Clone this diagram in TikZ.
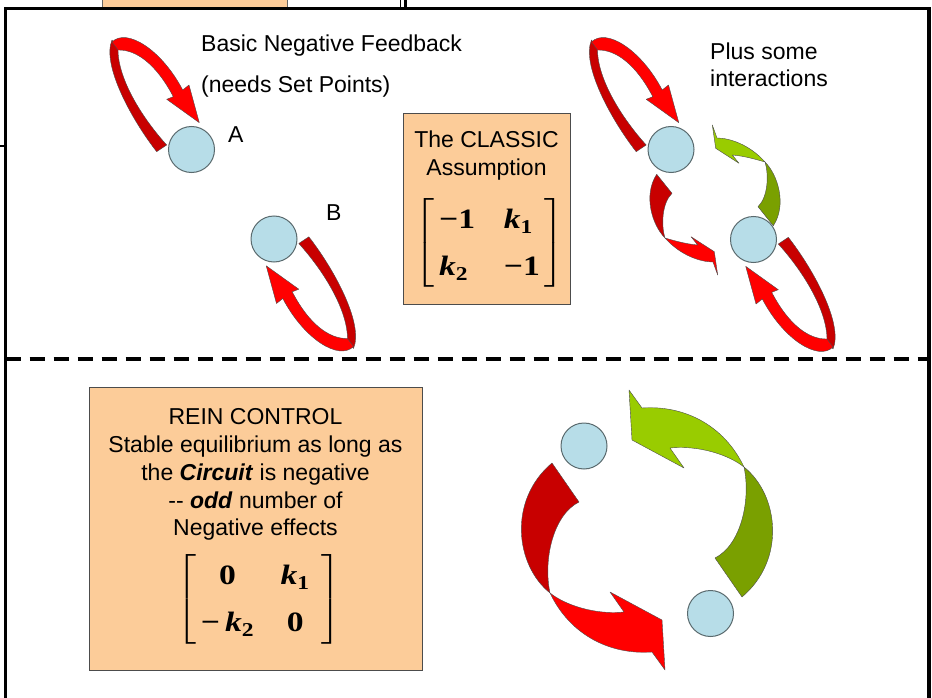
\documentclass[tikz,border=0pt]{standalone}
\usepackage{amsmath}
\usepackage{fontspec}
\setmainfont{Liberation Sans}
\newfontfamily\mtxfont{Liberation Serif}
\usetikzlibrary{backgrounds}

\definecolor{cellblue}{HTML}{B7DDE8}
\definecolor{cellrim}{HTML}{5A6A6E}
\definecolor{notefill}{HTML}{FCCC99}
\definecolor{reddark}{HTML}{C80000}
\definecolor{redlight}{HTML}{FF0000}
\definecolor{greendark}{HTML}{7AA000}
\definecolor{greenlight}{HTML}{99CC00}

\newcommand{\bnum}[1]{\text{\bfseries #1}}
\newcommand{\bk}[1]{\text{\bfseries\itshape k}_{\text{\bfseries #1}}}

\tikzset{
  cell/.style={circle, fill=cellblue, draw=cellrim, line width=1pt,
    minimum size=46pt, inner sep=0pt},
  notebox/.style={rectangle, fill=notefill, draw=black!70, line width=0.8pt,
    inner sep=0pt},
  lbl/.style={font=\fontsize{23}{27.75}\selectfont, inner sep=0pt},
  mtx/.style={font=\mtxfont\fontsize{28}{34}\selectfont, inner sep=0pt,
    xscale=1.2, transform shape},
  ribbon/.style={draw=black!70, line width=0.4pt, line join=round},
  pics/selfloop/.style={code={
    \filldraw[ribbon, fill=reddark] (-34.8,2.2) -- (-24.8,-4.5)
      .. controls (-48,-30) and (-74,-70) .. (-73.5,-101) -- (-79.5,-109.5)
      .. controls (-90,-85) and (-60,-30) .. cycle;
    \filldraw[ribbon, fill=redlight] (-79.5,-107.5)
      .. controls (-65,-122) and (-30,-100) .. (-8.8,-59.5) -- (-2.5,-64.5)
      -- (7.8,-26.8) -- (-24.8,-50.2) -- (-18.2,-52.8)
      .. controls (-35,-85) and (-55,-100) .. (-73.5,-99.5) -- cycle;
  }},
  pics/bigtwist/.style 2 args={code={
    \filldraw[ribbon, fill=#1] (-95,-67) -- (-68,-28)
      .. controls (-94,-15) and (-104,30) .. (-97,63)
      .. controls (-132,35) and (-139,-30) .. cycle;
    \filldraw[ribbon, fill=#2] (-97,63)
      .. controls (-77,105) and (-37,125) .. (5,122) -- (18,140) -- (15,90)
      -- (-37,62) -- (-23,82) .. controls (-52,85) and (-82,75) .. cycle;
  }},
  pics/smalltwist/.style 2 args={code={
    \filldraw[ribbon, fill=#1] (-58.3,-25.7) -- (-43,-6.7)
      .. controls (-53,3) and (-54,25) .. (-50,38)
      .. controls (-63,25) and (-72,-5) .. cycle;
    \filldraw[ribbon, fill=#2] (-50,38)
      .. controls (-35,55) and (-15,62) .. (-2,62) -- (2.7,75) -- (-0.7,51.7)
      -- (-24,36.7) -- (-17.3,45) .. controls (-30,44) and (-43,40) .. cycle;
  }},
}

\begin{document}
\begin{tikzpicture}[x=1pt, y=-1pt]
  \useasboundingbox (0,0) rectangle (932,698);

  % Cut-off pieces of the slide above
  \filldraw[fill=notefill, draw=black!60] (102,-2) rectangle (287,8);
  \draw[line width=1.2pt] (400.5,0) -- (400.5,8);
  \draw[line width=3pt] (405.5,0) -- (405.5,8);
  \draw[line width=2pt] (-1,146) -- (6,146);

  % Frame and divider
  \draw[line width=3.5pt] (5.5,720) -- (5.5,8.3) -- (929,8.3) -- (929,720);
  \draw[line width=4pt, dash pattern=on 15pt off 9pt] (5.5,359) -- (929,359);

  % Define nodes
  \node[cell] (cellA) at (191.5,149.5) {};
  \node[cell] (cellB) at (274,239) {};
  \node[cell] (cellC) at (671,149.5) {};
  \node[cell] (cellD) at (753.5,239.5) {};
  \node[cell] (cellE) at (584,446) {};
  \node[cell] (cellF) at (710.5,613.5) {};
  \node[lbl, anchor=base west] (labA) at (228,143) {A};
  \node[lbl, anchor=base west] (labB) at (326,220) {B};

  \node[lbl, anchor=base west] (basic) at (201,52) {Basic Negative Feedback};
  \node[lbl, anchor=base west] (needs) at (201,93) {(needs Set Points)};
  \node[lbl, anchor=base west] (plus) at (710,60) {Plus some};
  \node[lbl, anchor=base west] (inter) at (710,87) {interactions};

  % The classic box
  \node[notebox, minimum width=167pt, minimum height=191pt] (classic) at (486.5,208.5) {};
  \node[lbl, align=center, anchor=north] (classicT) at (486.5,131) {The CLASSIC\\Assumption};
  \node[mtx] (classicM) at (489.5,243) {\renewcommand\arraystretch{1.38}%
    $\left[\begin{array}{@{\hspace{4pt}}l@{\hspace{24pt}}l@{\hspace{4pt}}}
      \bnum{−1} & \bk{1} \\ \bk{2} & \bnum{−1}
    \end{array}\right]$};

  % The rein control box
  \node[notebox, minimum width=333pt, minimum height=283pt] (rein) at (255.5,528.5) {};
  \node[lbl, align=center, anchor=north] (reinT) at (255.5,408.5) {REIN CONTROL\\Stable equilibrium as long as\\the \textbf{\textit{Circuit}} is negative\\-{}- \textbf{\textit{odd}} number of\\Negative effects};
  \node[mtx] (reinM) at (259,599) {\renewcommand\arraystretch{1.38}%
    $\left[\begin{array}{@{\hspace{4pt}}c@{\hspace{22pt}}c@{\hspace{10pt}}}
      \bnum{0} & \bk{1} \\ \bnum{−}\,\bk{2} & \bnum{0}
    \end{array}\right]$};

  % Arrows behind the cells
  \begin{scope}[on background layer]
    \pic at (cellA) {selfloop};
    \pic[rotate=180] at (cellB) {selfloop};
    \pic at (cellC) {selfloop};
    \pic[rotate=180] at (cellD) {selfloop};
    \pic at (715,200) {smalltwist={reddark}{redlight}};
    \pic[rotate=180] at (715,200) {smalltwist={greendark}{greenlight}};
    \pic at (647,530) {bigtwist={reddark}{redlight}};
    \pic[rotate=180] at (647,530) {bigtwist={greendark}{greenlight}};
  \end{scope}
\end{tikzpicture}
\end{document}
